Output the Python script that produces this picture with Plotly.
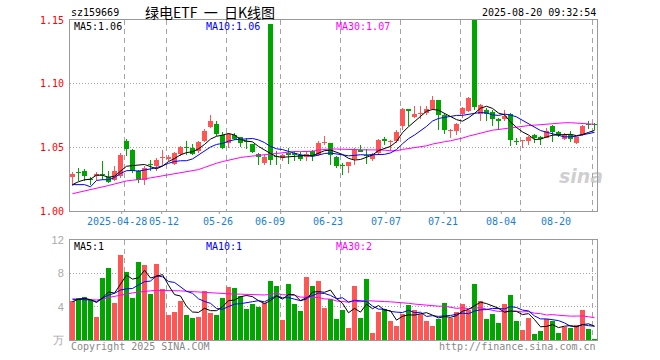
import plotly.graph_objects as go
import pandas as pd

# ---------------- data ----------------
holidays = ['2025-05-01', '2025-05-02', '2025-05-05', '2025-06-02']
dates = [d.strftime('%m-%d') for d in pd.bdate_range('2025-04-15', '2025-08-20')
         if d.strftime('%Y-%m-%d') not in holidays]

opens = [1.0265, 1.0301, 1.0312, 1.0248, 1.0272, 1.0287, 1.0267, 1.0246, 1.0272, 1.0548,
         1.0482, 1.0312, 1.0246, 1.0360, 1.0351, 1.0413, 1.0405, 1.0370, 1.0445, 1.0496,
         1.0495, 1.0470, 1.0548, 1.0658, 1.0684, 1.0600, 1.0535, 1.0595, 1.0582, 1.0544,
         1.0527, 1.0448, 1.0377, 1.1465, 1.0423, 1.0416, 1.0444, 1.0444, 1.0443, 1.0422,
         1.0474, 1.0443, 1.0535, 1.0532, 1.0422, 1.0352, 1.0351, 1.0409, 1.0477, 1.0431,
         1.0409, 1.0456, 1.0554, 1.0540, 1.0553, 1.0666, 1.0802, 1.0739, 1.0760, 1.0771,
         1.0802, 1.0870, 1.0757, 1.0631, 1.0631, 1.0763, 1.0783, 1.1500, 1.0763, 1.0796,
         1.0778, 1.0726, 1.0726, 1.0765, 1.0544, 1.0552, 1.0553, 1.0600, 1.0582, 1.0574,
         1.0671, 1.0618, 1.0569, 1.0600, 1.0535, 1.0595, 1.0679, 1.0684]
highs = [1.0304, 1.0338, 1.0330, 1.0267, 1.0304, 1.0390, 1.0312, 1.0351, 1.0456, 1.0566,
         1.0485, 1.0325, 1.0351, 1.0403, 1.0417, 1.0477, 1.0440, 1.0466, 1.0508, 1.0548,
         1.0530, 1.0550, 1.0645, 1.0757, 1.0705, 1.0621, 1.0613, 1.0613, 1.0585, 1.0574,
         1.0530, 1.0456, 1.0437, 1.1465, 1.0469, 1.0448, 1.0495, 1.0469, 1.0464, 1.0474,
         1.0476, 1.0548, 1.0587, 1.0535, 1.0430, 1.0377, 1.0386, 1.0495, 1.0522, 1.0488,
         1.0456, 1.0566, 1.0582, 1.0556, 1.0639, 1.0810, 1.0805, 1.0823, 1.0823, 1.0828,
         1.0907, 1.0872, 1.0771, 1.0647, 1.0690, 1.0815, 1.0893, 1.1500, 1.0841, 1.0810,
         1.0790, 1.0728, 1.0796, 1.0767, 1.0574, 1.0555, 1.0587, 1.0602, 1.0587, 1.0652,
         1.0673, 1.0626, 1.0613, 1.0626, 1.0582, 1.0673, 1.0710, 1.0692]
lows = [1.0194, 1.0233, 1.0233, 1.0207, 1.0246, 1.0246, 1.0220, 1.0233, 1.0259, 1.0430,
        1.0299, 1.0220, 1.0207, 1.0312, 1.0312, 1.0364, 1.0390, 1.0360, 1.0430, 1.0443,
        1.0443, 1.0456, 1.0540, 1.0650, 1.0587, 1.0490, 1.0495, 1.0561, 1.0500, 1.0490,
        1.0456, 1.0359, 1.0364, 1.0364, 1.0359, 1.0390, 1.0370, 1.0390, 1.0390, 1.0396,
        1.0390, 1.0430, 1.0521, 1.0360, 1.0338, 1.0286, 1.0299, 1.0364, 1.0460, 1.0372,
        1.0391, 1.0443, 1.0522, 1.0469, 1.0534, 1.0639, 1.0666, 1.0731, 1.0723, 1.0757,
        1.0797, 1.0634, 1.0608, 1.0574, 1.0600, 1.0731, 1.0780, 1.0796, 1.0705, 1.0710,
        1.0666, 1.0639, 1.0705, 1.0508, 1.0516, 1.0495, 1.0516, 1.0535, 1.0516, 1.0570,
        1.0543, 1.0579, 1.0561, 1.0543, 1.0527, 1.0590, 1.0647, 1.0639]
closes = [1.0293, 1.0299, 1.0278, 1.0246, 1.0293, 1.0285, 1.0225, 1.0317, 1.0443, 1.0487,
          1.0312, 1.0246, 1.0338, 1.0358, 1.0403, 1.0417, 1.0425, 1.0458, 1.0500, 1.0494,
          1.0448, 1.0540, 1.0630, 1.0710, 1.0605, 1.0495, 1.0605, 1.0569, 1.0535, 1.0542,
          1.0464, 1.0427, 1.0422, 1.0403, 1.0422, 1.0437, 1.0443, 1.0443, 1.0411, 1.0448,
          1.0430, 1.0535, 1.0543, 1.0440, 1.0351, 1.0351, 1.0383, 1.0477, 1.0461, 1.0430,
          1.0448, 1.0556, 1.0553, 1.0550, 1.0618, 1.0802, 1.0784, 1.0765, 1.0765, 1.0802,
          1.0870, 1.0757, 1.0639, 1.0634, 1.0687, 1.0810, 1.0888, 1.0815, 1.0836, 1.0763,
          1.0726, 1.0705, 1.0749, 1.0556, 1.0543, 1.0553, 1.0582, 1.0574, 1.0569, 1.0631,
          1.0621, 1.0595, 1.0595, 1.0569, 1.0579, 1.0665, 1.0678, 1.0673]
volumes = [4.68, 5.04, 5.20, 4.80, 2.76, 7.44, 8.64, 4.48, 10.2, 8.16,
           5.08, 9.36, 9.04, 5.56, 9.16, 6.12, 3.00, 3.40, 4.72, 3.00,
           2.68, 2.76, 5.88, 3.28, 3.00, 5.04, 6.40, 6.24, 5.28, 3.76,
           4.32, 4.00, 4.48, 7.12, 6.52, 2.44, 6.72, 4.36, 3.52, 7.60,
           6.48, 7.12, 3.88, 4.90, 2.52, 3.60, 1.44, 6.52, 2.64, 7.32,
           0.84, 3.36, 3.72, 2.32, 1.68, 3.16, 4.20, 3.60, 3.12, 2.32,
           1.68, 2.52, 4.44, 2.64, 3.36, 4.32, 3.60, 6.72, 4.68, 2.52,
           3.12, 2.04, 4.32, 5.40, 2.28, 1.20, 2.64, 0.72, 1.08, 2.52,
           2.28, 0.84, 1.56, 1.44, 1.80, 3.60, 1.32, 0.12]

# moving-average values for days before a full window exists
ma5_head = [1.0207, 1.0230, 1.0245, 1.0250]
ma10_head = [1.0207, 1.0207, 1.0207, 1.0190, 1.0240, 1.0246, 1.0246, 1.0262, 1.0295]
ma30_head = [1.0136, 1.0146, 1.0155, 1.0165, 1.0178, 1.0190, 1.0200, 1.0212, 1.0225, 1.0236,
             1.0242, 1.0246, 1.0252, 1.0260, 1.0268, 1.0275, 1.0280, 1.0290, 1.0300, 1.0310,
             1.0318, 1.0325, 1.0342, 1.0360, 1.0375, 1.0388, 1.0400, 1.0410, 1.0420]
vma5_head = [4.6, 4.9, 5.0, 4.85]
vma10_head = [4.9, 4.85, 4.85, 4.8, 4.6, 5.0, 5.4, 5.6, 6.0]
vma30_head = [4.9, 4.9, 4.9, 4.85, 4.8, 4.9, 5.1, 5.25, 5.4, 5.55,
              5.65, 5.75, 5.85, 5.9, 5.95, 5.95, 5.95, 5.9, 5.9, 5.85,
              5.8, 5.75, 5.7, 5.65, 5.6, 5.55, 5.55, 5.5, 5.5]

grid_dates = ['04-28', '05-12', '05-26', '06-09', '06-23', '07-07', '07-21', '08-04', '08-20']
label_texts = ['2025-04-28', '05-12', '05-26', '06-09', '06-23', '07-07', '07-21', '08-04', '08-20']

# ---------------- helpers / layout constants ----------------
W, H = 660, 360
L_PX, R_PX, T_PX, B_PX = 70, 597, 20, 340
PX_PER_DAY = 6.0
X0 = 72.5  # pixel centre of first candle


def ma(vals, n, head):
    out = []
    for i in range(len(vals)):
        if i >= n - 1:
            out.append(sum(vals[i - n + 1:i + 1]) / n)
        else:
            out.append(head[i])
    return out


def px_to_idx(px):
    return (px - X0) / PX_PER_DAY


def py_to_paper(py):
    return (B_PX - py) / (B_PX - T_PX)


def px_to_paper(px):
    return (px - L_PX) / (R_PX - L_PX)


n = len(dates)
idx = list(range(n))
RED, GREEN = '#ff5555', '#00a600'
colors = [RED if c > o else GREEN for o, c in zip(opens, closes)]

ma5 = ma(closes, 5, ma5_head)
ma10 = ma(closes, 10, ma10_head)
ma30 = ma(closes, 30, ma30_head)
vma5 = ma(volumes, 5, vma5_head)
vma10 = ma(volumes, 10, vma10_head)
vma30 = ma(volumes, 30, vma30_head)

body_base = [min(o, c) for o, c in zip(opens, closes)]
body_h = [max(abs(c - o), 0.0009) for o, c in zip(opens, closes)]
wick_h = [h - l for h, l in zip(highs, lows)]

fig = go.Figure()
# wicks
fig.add_trace(go.Bar(x=idx, y=wick_h, base=lows, width=0.19, marker=dict(color=colors, line=dict(width=0)),
                     xaxis='x', yaxis='y'))
# bodies
fig.add_trace(go.Bar(x=idx, y=body_h, base=body_base, width=0.8, marker=dict(color=colors, line=dict(width=0)),
                     xaxis='x', yaxis='y'))
for vals, col in [(ma30, '#ff00ff'), (ma10, '#0000ff'), (ma5, '#000000')]:
    fig.add_trace(go.Scatter(x=idx, y=vals, mode='lines', line=dict(color=col, width=1),
                             xaxis='x', yaxis='y'))
# volume
fig.add_trace(go.Bar(x=idx, y=volumes, width=0.84, marker=dict(color=colors, line=dict(width=0)),
                     xaxis='x2', yaxis='y2'))
for vals, col in [(vma30, '#ff00ff'), (vma10, '#0000ff'), (vma5, '#000000')]:
    fig.add_trace(go.Scatter(x=idx, y=vals, mode='lines', line=dict(color=col, width=1),
                             xaxis='x2', yaxis='y2'))

grid_pos = [dates.index(d) - 0.4 for d in grid_dates]
xr = [px_to_idx(L_PX), px_to_idx(R_PX)]
GRID = '#a4a4a4'
FRAME = '#999999'
MONO = 'DejaVu Sans Mono'

xcommon = dict(range=xr, tickvals=grid_pos, showticklabels=False, ticks='', showgrid=True,
               gridcolor=GRID, griddash='5px,4px', gridwidth=1, zeroline=False,
               showline=True, mirror=True, linecolor=FRAME, linewidth=1, fixedrange=True)

price_dom = [py_to_paper(211), 1.0]
vol_dom = [0.0, py_to_paper(240)]

fig.update_layout(
    width=W, height=H,
    margin=dict(l=L_PX, r=W - R_PX, t=T_PX, b=H - B_PX, autoexpand=False),
    paper_bgcolor='white', plot_bgcolor='white',
    showlegend=False, hovermode=False, barmode='overlay', bargap=0,
    xaxis=dict(anchor='y', domain=[0, 1], **xcommon),
    xaxis2=dict(anchor='y2', domain=[0, 1], matches='x', **xcommon),
    yaxis=dict(domain=price_dom, range=[1.0, 1.15], tickvals=[1.0, 1.05, 1.10, 1.15],
               ticktext=['1.00', '1.05', '1.10', '1.15'], ticks='', ticklabelstandoff=3,
               tickfont=dict(family=MONO, size=10, color='#ff0000'),
               showgrid=True, gridcolor=GRID, griddash='1px,2px', zeroline=False,
               showline=True, mirror=True, linecolor=FRAME, linewidth=1, fixedrange=True),
    yaxis2=dict(domain=vol_dom, range=[0, 12], tickvals=[0, 4, 8, 12],
                ticktext=['万', '4', '8', '12'], ticks='', ticklabelstandoff=3,
                tickfont=dict(family='Liberation Sans', size=11, color='#aaaaaa'),
                showgrid=True, gridcolor=GRID, griddash='1px,2px', zeroline=False,
                showline=True, mirror=True, linecolor=FRAME, linewidth=1, fixedrange=True),
)

ann = []


def text(x, y, s, color='#000', size=10, family=MONO, xanchor='left', xref='paper', style='normal'):
    ann.append(dict(x=x, y=y, xref=xref, yref='paper', text=s, showarrow=False,
                    xanchor=xanchor, yanchor='middle',
                    font=dict(family=family, size=size, color=color, style=style),
                    borderpad=0))


text(0, py_to_paper(13), 'sz159669', size=10)
text(px_to_paper(210), py_to_paper(12), '绿电ETF\u00a0\u00a0一\u00a0\u00a0日K线图', size=14,
     family='Noto Sans CJK SC', xanchor='center')
text(1, py_to_paper(13), '2025-08-20 09:32:54', xanchor='right')
text(px_to_paper(73), py_to_paper(26.5), 'MA5:1.06', color='#000000')
text(px_to_paper(205), py_to_paper(26.5), 'MA10:1.06', color='#0000ff')
text(px_to_paper(335), py_to_paper(26.5), 'MA30:1.07', color='#ff00ff')
text(px_to_paper(73), py_to_paper(246.5), 'MA5:1', color='#000000')
text(px_to_paper(205), py_to_paper(246.5), 'MA10:1', color='#0000ff')
text(px_to_paper(335), py_to_paper(246.5), 'MA30:2', color='#ff00ff')
text(0, py_to_paper(346.5), 'Copyright 2025 SINA.COM', color='#888888')
text(1, py_to_paper(346.5), 'http://finance.sina.com.cn', color='#888888', xanchor='right')
text(px_to_paper(581), py_to_paper(176), '<b>sina</b>', color='rgba(160,160,160,0.5)', size=19,
     family='DejaVu Sans', xanchor='center', style='italic')

label_px = [117, 164, 218, 270, 327.5, 385.5, 443, 501, 555.5]
for lp, lt in zip(label_px, label_texts):
    text(px_to_idx(lp), py_to_paper(221), lt, color='#1a80d4', xanchor='center', xref='x')

shapes = []
tick_px = [121.7, 161.7, 219.3, 280.7, 328.7, 386, 444, 501.3, 564]
for tp in tick_px:
    shapes.append(dict(type='line', xref='x', yref='paper', x0=px_to_idx(tp), x1=px_to_idx(tp),
                       y0=py_to_paper(211), y1=py_to_paper(214), line=dict(color=FRAME, width=1)))

fig.update_layout(annotations=ann, shapes=shapes)
fig.write_html('out.html', config={'displayModeBar': False, 'staticPlot': True},
               post_script="document.body.style.margin='0px';")
